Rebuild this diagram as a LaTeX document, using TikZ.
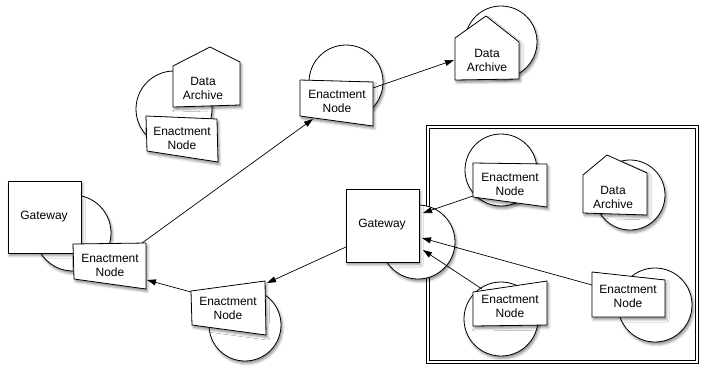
\documentclass[tikz,border=0pt]{standalone}
\usepackage{fontspec}
\setmainfont{Liberation Sans}
\usetikzlibrary{arrows.meta,shadows.blur}

\begin{document}
\begin{tikzpicture}[x=1pt,y=-1pt,
  shp/.style={draw=black, line width=0.8pt, fill=white,
    blur shadow={shadow xshift=1.5pt, shadow yshift=-2.5pt,
                 shadow blur radius=2.5pt, shadow opacity=45}},
  lbl/.style={font=\fontsize{12}{14}\selectfont, align=center, inner sep=0pt},
  link/.style={draw=black, line width=0.7pt, -{Triangle[length=9pt,width=6pt]}},
]
\useasboundingbox (0,0) rectangle (701,365);

% ---- enclosing site boundary (double frame)
\draw[line width=0.8pt] (426,125) rectangle (698,363);
\draw[line width=0.8pt] (429,128) rectangle (695,360);

% ---- left gateway site
\path[shp] (73,233) circle[radius=38pt];
\path[shp] (8,181) rectangle (81,253);
\node[lbl] (gwL) at (44,217) {Gateway};
\path[shp] (73,244) -- (146,243) -- (146,289) -- (74,279) -- cycle;
\node[lbl] (enL) at (110,265) {Enactment\\Node};

% ---- upper left site with archive
\path[shp] (174,109) circle[radius=38pt];
\path[shp] (173,107) -- (173,66) -- (210,47) -- (240,62) -- (240,105) -- cycle;
\node[lbl] (daL) at (203,88) {Data\\Archive};
\path[shp] (146,116) -- (217,119) -- (218,162) -- (147,151) -- cycle;
\node[lbl] (enUL) at (182,138) {Enactment\\Node};

% ---- upper middle site
\path[shp] (346,82) circle[radius=37pt];
\path[shp] (300,80) -- (373,82) -- (373,126) -- (300,116) -- cycle;
\node[lbl] (enUM) at (337,101) {Enactment\\Node};

% ---- upper right archive
\path[shp] (501,42) circle[radius=36pt];
\path[shp] (455,80) -- (455,38) -- (486,16) -- (519,42) -- (519,79) -- cycle;
\node[lbl] (daUR) at (487,60) {Data\\Archive};

% ---- lower middle site
\path[shp] (245,325) circle[radius=36pt];
\path[shp] (191,291) -- (265,281) -- (266,335) -- (192,325) -- cycle;
\node[lbl] (enLM) at (228,308) {Enactment\\Node};

% ---- right gateway
\path[shp] (418,242) circle[radius=37pt];
\path[shp] (346,189) rectangle (419,262);
\node[lbl] (gwR) at (382,225) {Gateway};

% ---- sites inside the frame
\path[shp] (501,170) circle[radius=36pt];
\path[shp] (473,163) -- (547,164) -- (547,207) -- (473,197) -- cycle;
\node[lbl] (enF1) at (510,184) {Enactment\\Node};

\path[shp] (630,195) circle[radius=35pt];
\path[shp] (583,213) -- (583,175) -- (607,155) -- (647,173) -- (647,215) -- cycle;
\node[lbl] (daF) at (613,197) {Data\\Archive};

\path[shp] (501,319) circle[radius=37pt];
\path[shp] (473,292) -- (547,281) -- (547,325) -- (473,326) -- cycle;
\node[lbl] (enF2) at (510,306) {Enactment\\Node};

\path[shp] (655,305) circle[radius=37pt];
\path[shp] (592,272) -- (665,280) -- (665,317) -- (592,317) -- cycle;
\node[lbl] (enF3) at (628,296) {Enactment\\Node};

% ---- connector end points
\coordinate (enL-out)  at (142,243);
\coordinate (enUM-in)  at (313,119);
\coordinate (enUM-out) at (373,88);
\coordinate (daUR-in)  at (454,60);
\coordinate (gwR-out)  at (346,247);
\coordinate (enLM-in)  at (267,283);
\coordinate (enLM-out) at (191,292);
\coordinate (enL-in)   at (147,280);
\coordinate (enF1-out) at (473,196);
\coordinate (gwR-in1)  at (423,213);
\coordinate (enF3-out) at (592,285);
\coordinate (gwR-in2)  at (422,238);
\coordinate (enF2-out) at (482,289);
\coordinate (gwR-in3)  at (423,250);

% ---- connectors
\draw[link] (enL-out) -- (enUM-in);
\draw[link] (enUM-out) -- (daUR-in);
\draw[link] (gwR-out) -- (enLM-in);
\draw[link] (enLM-out) -- (enL-in);
\draw[link] (enF1-out) -- (gwR-in1);
\draw[link] (enF3-out) -- (gwR-in2);
\draw[link] (enF2-out) -- (gwR-in3);
\end{tikzpicture}
\end{document}
